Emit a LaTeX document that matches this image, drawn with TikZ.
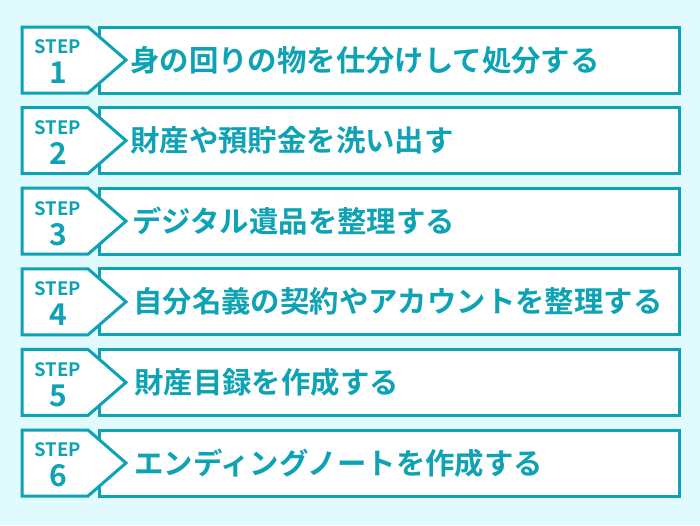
\documentclass[tikz,border=0pt]{standalone}
\usepackage{fontspec}
\newfontfamily\cjk{Noto Sans CJK JP}[BoldFont={Noto Sans CJK JP Bold}]
\definecolor{teal1}{RGB}{14,163,180}
\definecolor{bgc}{RGB}{224,250,253}
\tikzset{
  boxline/.style={draw=teal1, line width=3pt, fill=white, line join=miter},
  steplbl/.style={font=\cjk\bfseries\fontsize{18.5}{18.5}\selectfont, text=teal1, inner sep=0pt},
  stepnum/.style={font=\cjk\bfseries\fontsize{30}{30}\selectfont, text=teal1, inner sep=0pt},
  maintext/.style={font=\cjk\bfseries\fontsize{29.4}{30}\selectfont, text=teal1, inner sep=0pt, anchor=west},
}
\begin{document}
\begin{tikzpicture}[x=1pt,y=-1pt]
\fill[bgc] (0,0) rectangle (700,525);
\useasboundingbox (0,0) rectangle (700,525);
\foreach \i/\tx/\t in {0/130/身の回りの物を仕分けして処分する,1/130/財産や預貯金を洗い出す,2/132/デジタル遺品を整理する,3/133/自分名義の契約やアカウントを整理する,4/134/財産目録を作成する,5/134/エンディングノートを作成する}{
  \pgfmathsetmacro{\top}{27+80.6*\i}
  \pgfmathsetmacro{\bot}{\top+66}
  \pgfmathsetmacro{\mid}{\top+33}
  \draw[boxline] (99,\top) rectangle (679,\bot);
  \draw[boxline] (22,\top) -- (88,\top) -- (126,\mid) -- (88,\bot) -- (22,\bot) -- cycle;
  \node[steplbl] (s\i) at (58,\top+20) {STEP};
  \pgfmathtruncatemacro{\n}{\i+1}
  \node[stepnum] (n\i) at (58,\top+46) {\n};
  \node[maintext] (t\i) at (\tx,\mid) {\t};
}
\end{tikzpicture}
\end{document}
